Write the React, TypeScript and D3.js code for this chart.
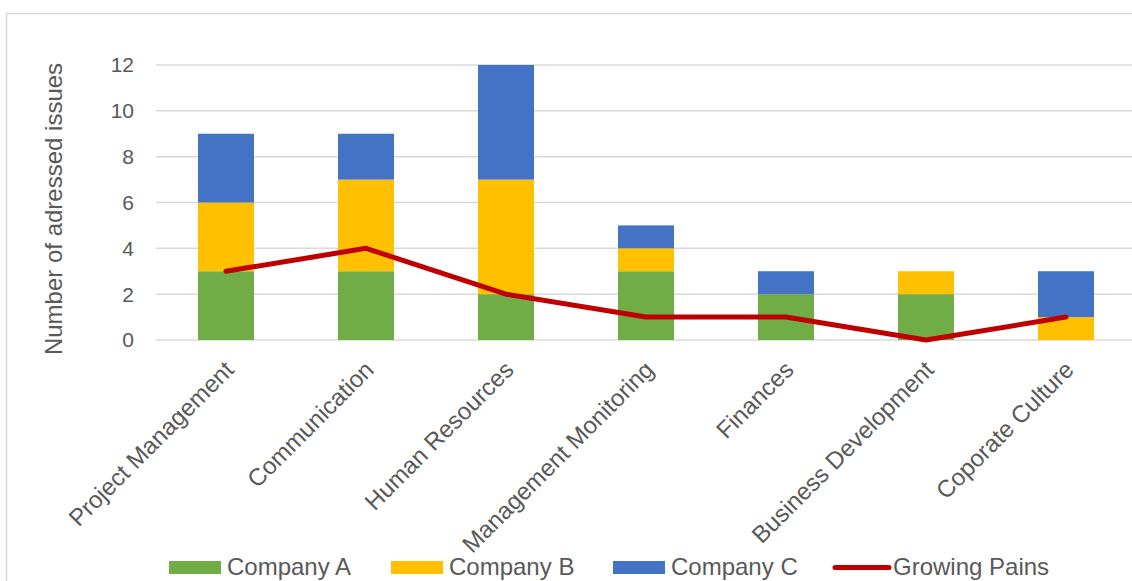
import React from "react";
import * as d3 from "d3";

const categories = [
  "Project Management",
  "Communication",
  "Human Resources",
  "Management Monitoring",
  "Finances",
  "Business Development",
  "Coporate Culture",
];
const companyA = [3, 3, 2, 3, 2, 2, 0];
const companyB = [3, 4, 5, 1, 0, 1, 1];
const companyC = [3, 2, 5, 1, 1, 0, 2];
const growingPains = [3, 4, 2, 1, 1, 0, 1];
const yTicks = [0, 2, 4, 6, 8, 10, 12];
const seriesNames = ["Company A", "Company B", "Company C"];
const seriesColors = ["#70AD47", "#FFC000", "#4472C4"];
const lineName = "Growing Pains";
const lineColor = "#C00000";

const W = 1132;
const H = 581;
const FONT = "'Liberation Sans', Arial, sans-serif";
const TEXT = "#595959";

export default function App() {
  const x = d3.scaleBand<string>().domain(categories).range([156, 1136]).padding(0);
  const y = d3.scaleLinear().domain([0, 12]).range([340, 65]);
  const barW = x.bandwidth() * 0.4;

  const rows = categories.map((c, i) => ({
    cat: c,
    a: companyA[i],
    b: companyB[i],
    c: companyC[i],
  }));
  const stacked = d3.stack<any>().keys(["a", "b", "c"])(rows);

  const line = d3
    .line<number>()
    .x((_, i) => (x(categories[i]) as number) + x.bandwidth() / 2)
    .y((d) => y(d));

  const legendItems = [
    { name: seriesNames[0], color: seriesColors[0], x: 169, type: "rect" },
    { name: seriesNames[1], color: seriesColors[1], x: 391, type: "rect" },
    { name: seriesNames[2], color: seriesColors[2], x: 613, type: "rect" },
    { name: lineName, color: lineColor, x: 835, type: "line" },
  ];

  return (
    <svg
      width={W}
      height={H}
      style={{ position: "absolute", left: 0, top: 0, background: "#fff" }}
      fontFamily={FONT}
    >
      <rect x={6.5} y={13.5} width={1140} height={600} fill="#fff" stroke="#D9D9D9" strokeWidth={1.5} />
      {yTicks.map((t) => (
        <g key={t}>
          <line x1={156} x2={1136} y1={y(t)} y2={y(t)} stroke="#D9D9D9" strokeWidth={1.5} />
          <text x={134} y={y(t)} dy="0.35em" textAnchor="end" fontSize={21} fill={TEXT}>
            {t}
          </text>
        </g>
      ))}
      <text
        transform={`translate(54, 209) rotate(-90)`}
        textAnchor="middle"
        dy="0.35em"
        fontSize={24}
        fill={TEXT}
      >
        Number of adressed issues
      </text>
      {stacked.map((s, si) => (
        <g key={si} fill={seriesColors[si]}>
          {s.map((d, i) =>
            d[1] - d[0] > 0 ? (
              <rect
                key={i}
                x={(x(categories[i]) as number) + (x.bandwidth() - barW) / 2}
                y={y(d[1])}
                width={barW}
                height={y(d[0]) - y(d[1])}
              />
            ) : null
          )}
        </g>
      ))}
      <path
        d={line(growingPains) || ""}
        fill="none"
        stroke={lineColor}
        strokeWidth={5}
        strokeLinecap="round"
        strokeLinejoin="round"
      />
      {categories.map((c) => {
        const cx = (x(c) as number) + x.bandwidth() / 2;
        return (
          <text
            key={c}
            transform={`translate(${cx - 3}, 359) rotate(-45)`}
            textAnchor="end"
            dy="0.72em"
            fontSize={24}
            fill={TEXT}
          >
            {c}
          </text>
        );
      })}
      {legendItems.map((it) => (
        <g key={it.name}>
          {it.type === "rect" ? (
            <rect x={it.x} y={561} width={52} height={13} fill={it.color} />
          ) : (
            <line
              x1={it.x}
              x2={it.x + 54}
              y1={567.5}
              y2={567.5}
              stroke={it.color}
              strokeWidth={5}
              strokeLinecap="round"
            />
          )}
          <text x={it.x + 58} y={575} fontSize={24} fill={TEXT}>
            {it.name}
          </text>
        </g>
      ))}
    </svg>
  );
}
